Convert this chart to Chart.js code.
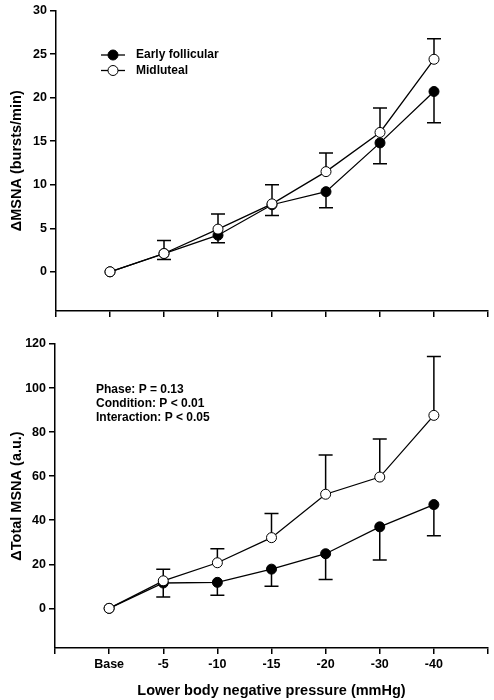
<!DOCTYPE html>
<html lang="en">
<head>
  <meta charset="UTF-8" />
  <title>LBNP MSNA</title>
  <script src="https://cdn.jsdelivr.net/npm/chart.js"></script>
  <style>
    html, body { margin: 0; padding: 0; background: #fff; }
    #wrap { position: relative; width: 494px; height: 700px; }
    .box { position: absolute; left: 0; width: 494px; }
    #top { top: 0; height: 330px; }
    #bottom { top: 330px; height: 370px; }
  </style>
</head>
<body>
  <div id="wrap">
    <div class="box" id="top"><canvas id="msnaChart"></canvas></div>
    <div class="box" id="bottom"><canvas id="totalChart"></canvas></div>
  </div>

  <script>
    // categories (LBNP steps)
    const categories = ['Base', '-5', '-10', '-15', '-20', '-30', '-40'];

    // top panel: delta MSNA (bursts/min)
    const burstEarly = [0, 2.1, 4.2, 7.7, 9.2, 14.8, 20.7];
    const burstEarlyErr = [0, 0.7, 0.85, 1.25, 1.85, 2.4, 3.6];   // drawn downward
    const burstMid = [0, 2.1, 4.9, 7.8, 11.5, 16.0, 24.4];
    const burstMidErr = [0, 1.5, 1.75, 2.2, 2.15, 2.8, 2.35];     // drawn upward
    const burstTicks = [0, 5, 10, 15, 20, 25, 30];

    // bottom panel: delta total MSNA (a.u.)
    const totalEarly = [0, 11.5, 11.8, 17.8, 24.8, 37.0, 47.1];
    const totalEarlyErr = [0, 6.4, 5.8, 7.8, 11.7, 15.0, 14.2];
    const totalMid = [0, 12.5, 20.7, 32.1, 51.8, 59.6, 87.6];
    const totalMidErr = [0, 5.3, 6.4, 10.9, 17.8, 17.3, 26.7];
    const totalTicks = [0, 20, 40, 60, 80, 100, 120];

    const statsText = ['Phase: P = 0.13', 'Condition: P < 0.01', 'Interaction: P < 0.05'];

    const FONT = "'Liberation Sans', Arial, sans-serif";
    const xTicks = [-1, 0, 1, 2, 3, 4, 5, 6, 7];

    const toXY = arr => arr.map((v, i) => ({ x: i, y: v }));

    const makeSets = (early, earlyErr, mid, midErr) => [
      {
        label: 'Early follicular',
        data: toXY(early),
        errs: earlyErr, errDir: -1,
        borderColor: '#000', backgroundColor: '#000',
        pointBackgroundColor: '#000', pointBorderColor: '#000',
        borderWidth: 1.3, pointRadius: 5, pointBorderWidth: 1,
        order: 1
      },
      {
        label: 'Midluteal',
        data: toXY(mid),
        errs: midErr, errDir: 1,
        borderColor: '#000', backgroundColor: '#fff',
        pointBackgroundColor: '#fff', pointBorderColor: '#000',
        borderWidth: 1.3, pointRadius: 5, pointBorderWidth: 1,
        order: 0
      }
    ];

    // error bars: one-sided, drawn under the markers
    const errorBars = {
      id: 'errorBars',
      beforeDatasetsDraw(chart) {
        const { ctx } = chart;
        const ys = chart.scales.y;
        ctx.save();
        ctx.strokeStyle = '#000';
        ctx.lineWidth = 1.5;
        chart.data.datasets.forEach((ds, di) => {
          const meta = chart.getDatasetMeta(di);
          meta.data.forEach((pt, i) => {
            const e = ds.errs[i];
            if (!e) return;
            const v = ds.data[i].y;
            const y1 = ys.getPixelForValue(v + ds.errDir * e);
            const x = pt.x;
            ctx.beginPath();
            ctx.moveTo(x, pt.y);
            ctx.lineTo(x, y1);
            ctx.moveTo(x - 7, y1);
            ctx.lineTo(x + 7, y1);
            ctx.stroke();
          });
        });
        ctx.restore();
      }
    };

    const legendBox = {
      id: 'legendBox',
      afterDraw(chart) {
        const { ctx } = chart;
        ctx.save();
        ctx.font = 'bold 12px ' + FONT;
        ctx.textBaseline = 'middle';
        chart.data.datasets.forEach((ds, i) => {
          const y = 55 + i * 15.5;
          ctx.strokeStyle = '#000';
          ctx.lineWidth = 1.3;
          ctx.beginPath();
          ctx.moveTo(101, y);
          ctx.lineTo(125, y);
          ctx.stroke();
          ctx.beginPath();
          ctx.arc(113, y, 5, 0, Math.PI * 2);
          ctx.fillStyle = ds.pointBackgroundColor;
          ctx.fill();
          ctx.lineWidth = 1;
          ctx.stroke();
          ctx.fillStyle = '#000';
          ctx.fillText(ds.label, 136, y);
        });
        ctx.restore();
      }
    };

    const statsNote = {
      id: 'statsNote',
      afterDraw(chart) {
        const { ctx } = chart;
        ctx.save();
        ctx.font = 'bold 12px ' + FONT;
        ctx.textBaseline = 'middle';
        ctx.fillStyle = '#000';
        statsText.forEach((t, i) => ctx.fillText(t, 96, 60 + i * 13.7));
        ctx.restore();
      }
    };

    const makeOptions = (opt) => ({
      responsive: true,
      maintainAspectRatio: false,
      animation: false,
      layout: { padding: { top: opt.padTop, right: 2, left: 0, bottom: 0 } },
      plugins: { legend: { display: false }, tooltip: { enabled: false } },
      scales: {
        x: {
          type: 'linear',
          min: -1, max: 7,
          afterBuildTicks: s => { s.ticks = xTicks.map(v => ({ value: v })); },
          afterFit: s => { s.height = opt.xHeight; },
          grid: { display: true, drawOnChartArea: false, drawTicks: true, tickLength: 6, color: '#000', lineWidth: 1.5 },
          border: { display: true, color: '#000', width: 1.5 },
          ticks: {
            color: '#000', padding: 3.5, maxRotation: 0, autoSkip: false,
            font: { family: FONT, size: 12.5, weight: 'bold' },
            callback: v => (opt.showX && categories[v] !== undefined) ? categories[v] : ''
          },
          title: {
            display: opt.showX,
            text: 'Lower body negative pressure (mmHg)',
            color: '#000',
            font: { family: FONT, size: 14.5, weight: 'bold' },
            padding: { top: 0, bottom: 0 }
          }
        },
        y: {
          min: opt.yMin, max: opt.yMax,
          afterBuildTicks: s => { s.ticks = opt.yTicks.map(v => ({ value: v })); },
          afterFit: s => { s.width = opt.yWidth; },
          grid: { display: true, drawOnChartArea: false, drawTicks: true, tickLength: 6, color: '#000', lineWidth: 1.5 },
          border: { display: true, color: '#000', width: 1.5 },
          ticks: { color: '#000', padding: 3, font: { family: FONT, size: 12.5, weight: 'bold' } },
          title: {
            display: true,
            text: opt.yTitle,
            color: '#000',
            font: { family: FONT, size: 14.5, weight: 'bold' },
            padding: { top: 8, bottom: 0 }
          }
        }
      }
    });

    new Chart(document.getElementById('msnaChart'), {
      type: 'line',
      data: { datasets: makeSets(burstEarly, burstEarlyErr, burstMid, burstMidErr) },
      options: makeOptions({
        padTop: 6, xHeight: 19, yWidth: 56, showX: false,
        yMin: -4.5, yMax: 30, yTicks: burstTicks,
        yTitle: '\u0394MSNA (bursts/min)'
      }),
      plugins: [errorBars, legendBox]
    });

    new Chart(document.getElementById('totalChart'), {
      type: 'line',
      data: { datasets: makeSets(totalEarly, totalEarlyErr, totalMid, totalMidErr) },
      options: makeOptions({
        padTop: 14, xHeight: 52, yWidth: 55, showX: true,
        yMin: -18, yMax: 120, yTicks: totalTicks,
        yTitle: '\u0394Total MSNA (a.u.)'
      }),
      plugins: [errorBars, statsNote]
    });
  </script>
</body>
</html>
